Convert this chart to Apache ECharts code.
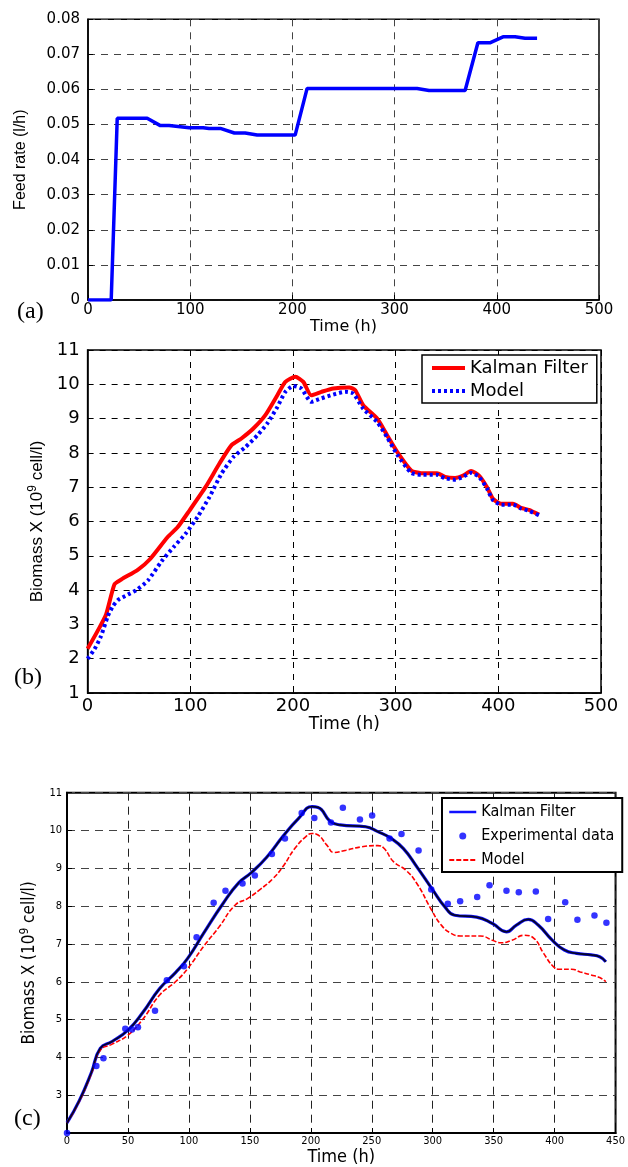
<!DOCTYPE html>
<html><head><meta charset="utf-8">
<script src="https://cdn.jsdelivr.net/npm/echarts@6/dist/echarts.min.js"></script>
<style>html,body{margin:0;padding:0;background:#fff}#c{width:628px;height:1167px}</style>
</head><body><div id="c"></div>
<script>
// ---- Panel (a): feed rate ----
const feedT = [0, 22.7, 28.6, 57.9, 70.8, 79.4, 99, 112.7, 118.5, 129.5, 143.2, 153.8, 165.5, 202.7, 214.4, 322, 333.7, 369, 381.5, 393.2, 406.1, 417.9, 427.6, 439.4];
const feedQ = [0, 0, 0.0518, 0.0518, 0.0497, 0.0497, 0.0491, 0.0491, 0.0489, 0.0489, 0.0476, 0.0476, 0.047, 0.047, 0.0603, 0.0603, 0.0597, 0.0597, 0.0733, 0.0733, 0.075, 0.075, 0.0746, 0.0746];

// ---- Panel (b): Kalman filter vs model ----
const kfbT = [0, 9.8, 18, 26.2, 32.8, 49.2, 60.7, 77.8, 87.6, 99.2, 114.8, 128.4, 140, 149.8, 161.4, 173.1, 184.8, 192.6, 202.3, 210.1, 217.8, 227.6, 239.2, 254.8, 260.6, 268.4, 282, 291.8, 301.5, 315.1, 324.8, 340.4, 348.2, 357.9, 365.7, 373.4, 381.2, 389, 394.8, 402.6, 414.3, 422, 429.8, 439.6];
const kfbX = [2.29, 2.81, 3.29, 4.17, 4.31, 4.6, 4.9, 5.54, 5.83, 6.32, 7.0, 7.69, 8.22, 8.42, 8.71, 9.1, 9.68, 10.07, 10.22, 10.07, 9.68, 9.78, 9.88, 9.91, 9.83, 9.39, 9.0, 8.51, 8.03, 7.49, 7.41, 7.41, 7.3, 7.27, 7.34, 7.47, 7.34, 7.0, 6.66, 6.52, 6.52, 6.4, 6.34, 6.2];
const mbT = [0, 6.6, 13.1, 19.7, 24.6, 29.5, 39.3, 47.5, 59, 72, 83.6, 95.3, 107, 118.6, 130.3, 142, 153.7, 165.3, 175, 184.8, 192.6, 200.3, 208.1, 217.8, 227.6, 239.2, 250.9, 258.7, 268.4, 282, 291.8, 301.5, 315.1, 324.8, 340.4, 348.2, 357.9, 365.7, 373.4, 381.2, 389, 394.8, 402.6, 414.3, 422, 429.8, 439.6];
const mbX = [2.0, 2.27, 2.66, 3.24, 3.53, 3.71, 3.87, 4.0, 4.29, 4.84, 5.25, 5.64, 6.13, 6.71, 7.39, 7.88, 8.17, 8.51, 8.86, 9.34, 9.78, 9.95, 9.88, 9.49, 9.59, 9.7, 9.78, 9.73, 9.29, 8.9, 8.45, 7.95, 7.42, 7.36, 7.36, 7.26, 7.22, 7.3, 7.42, 7.3, 6.96, 6.62, 6.49, 6.49, 6.38, 6.31, 6.18];

// ---- Panel (c): Kalman filter, experimental data, model ----
const kfcT = [0, 10, 20, 27.3, 37, 50, 62, 76, 89, 99, 112, 128, 141, 151, 164, 177, 190, 201, 206, 216, 224, 245, 255, 266, 276, 287, 300, 310, 318, 336, 349, 360.5, 368.7, 378.4, 386.5, 398, 408, 418, 430, 437, 442];
const kfcX = [2.27, 2.85, 3.6, 4.24, 4.42, 4.72, 5.18, 5.82, 6.24, 6.62, 7.28, 8.07, 8.62, 8.88, 9.3, 9.84, 10.32, 10.63, 10.61, 10.24, 10.15, 10.1, 9.97, 9.79, 9.52, 9.04, 8.43, 7.98, 7.76, 7.71, 7.54, 7.32, 7.5, 7.65, 7.5, 7.1, 6.84, 6.75, 6.71, 6.66, 6.53];
const mcT = [0, 10, 20, 27.3, 37, 50, 62, 76, 89, 99, 112, 125, 138, 148, 158, 169, 177, 187, 196, 201, 206, 213, 219, 229, 242, 255, 260, 268, 278, 287, 299, 307, 315, 323, 339, 349, 356, 365, 375, 383, 391, 399, 404, 414, 421, 430, 437, 442];
const mcX = [2.27, 2.83, 3.57, 4.19, 4.35, 4.59, 5.0, 5.65, 6.0, 6.35, 6.93, 7.46, 8.03, 8.2, 8.43, 8.73, 9.04, 9.53, 9.84, 9.92, 9.88, 9.62, 9.42, 9.48, 9.57, 9.6, 9.53, 9.17, 8.95, 8.6, 7.9, 7.5, 7.28, 7.21, 7.21, 7.1, 7.03, 7.1, 7.23, 7.15, 6.75, 6.4, 6.33, 6.33, 6.26, 6.18, 6.11, 6.0];
const expT = [0, 24.1, 29.9, 47.8, 53.3, 58.2, 72.2, 81.9, 95.9, 106.3, 120.3, 130, 144, 154.1, 168.1, 178.8, 192.5, 202.9, 216.5, 226.3, 240.3, 250.3, 264.6, 274.4, 288.4, 298.8, 312.4, 322.5, 336.5, 346.6, 360.5, 370.6, 384.6, 394.7, 408.7, 418.7, 432.7, 442.5];
const expX = [2.0, 3.77, 3.98, 4.76, 4.74, 4.8, 5.23, 6.04, 6.41, 7.18, 8.09, 8.41, 8.6, 8.81, 9.38, 9.79, 10.46, 10.33, 10.21, 10.6, 10.29, 10.4, 9.79, 9.91, 9.47, 8.44, 8.06, 8.13, 8.24, 8.55, 8.41, 8.37, 8.39, 7.66, 8.1, 7.64, 7.75, 7.56];

const pairs = (t, v) => t.map((x, i) => [x, v[i]]);
const DJ = 'DejaVu Sans';
const AR = 'Liberation Sans, Arial, sans-serif';
const NR = 'Liberation Sans Narrow, DejaVu Sans Condensed, Liberation Sans, sans-serif';

function gridStyle(left, top, width, height, bw) {
  return { left, top, width, height, show: true, borderColor: '#000', borderWidth: bw, backgroundColor: '#fff', containLabel: false };
}
function split(color, dash) {
  return { show: true, lineStyle: { color, type: dash, width: 1 } };
}
const hideSym = { opacity: 0 };

const chart = echarts.init(document.getElementById('c'), null, { renderer: 'canvas' });
chart.setOption({
  animation: false,
  backgroundColor: '#fff',
  grid: [
    gridStyle(88, 19.3, 511, 280.7, 1.5),
    gridStyle(87.6, 350, 513.4, 343, 1.5),
    gridStyle(67, 792.7, 554, 440, 2)
  ],
  xAxis: [
    { gridIndex: 0, type: 'value', min: 0, max: 500, interval: 100,
      axisLine: { show: true, lineStyle: { color: '#000', width: 1.5 } },
      axisTick: { show: true, inside: true, length: 5, lineStyle: { color: '#000' } },
      axisLabel: { color: '#000', fontFamily: DJ, fontSize: 15, margin: 3 },
      splitLine: split('#444', [7, 6]),
      name: 'Time (h)', nameLocation: 'middle', nameGap: 17,
      nameTextStyle: { color: '#000', fontFamily: DJ, fontSize: 16 } },
    { gridIndex: 1, type: 'value', min: 0, max: 500, interval: 100,
      axisLine: { show: true, lineStyle: { color: '#000', width: 1.5 } },
      axisTick: { show: true, inside: true, length: 5, lineStyle: { color: '#000' } },
      axisLabel: { color: '#000', fontFamily: DJ, fontSize: 18, margin: 4 },
      splitLine: split('#000', [6, 6]),
      name: 'Time (h)', nameLocation: 'middle', nameGap: 22,
      nameTextStyle: { color: '#000', fontFamily: DJ, fontSize: 17 } },
    { gridIndex: 2, type: 'value', min: 0, max: 450, interval: 50,
      axisLine: { show: true, lineStyle: { color: '#000', width: 2 } },
      axisTick: { show: true, inside: true, length: 5, lineStyle: { color: '#000' } },
      axisLabel: { color: '#000', fontFamily: NR, fontSize: 11, margin: 3 },
      splitLine: split('#222', [8, 6]),
      name: 'Time (h)', nameLocation: 'middle', nameGap: 15,
      nameTextStyle: { color: '#000', fontFamily: NR, fontSize: 18 } }
  ],
  yAxis: [
    { gridIndex: 0, type: 'value', min: 0, max: 0.08, interval: 0.01,
      axisLine: { show: true, lineStyle: { color: '#000', width: 1.5 } },
      axisTick: { show: true, inside: true, length: 5, lineStyle: { color: '#000' } },
      axisLabel: { color: '#000', fontFamily: DJ, fontSize: 15, margin: 8 },
      splitLine: split('#444', [7, 6]),
      name: 'Feed rate (l/h)', nameLocation: 'middle', nameGap: 59,
      nameTextStyle: { color: '#000', fontFamily: AR, fontSize: 16 } },
    { gridIndex: 1, type: 'value', min: 1, max: 11, interval: 1,
      axisLine: { show: true, lineStyle: { color: '#000', width: 1.5 } },
      axisTick: { show: true, inside: true, length: 5, lineStyle: { color: '#000' } },
      axisLabel: { color: '#000', fontFamily: DJ, fontSize: 18, margin: 8 },
      splitLine: split('#000', [6, 6]),
      name: '{a|Biomass X (10}{s|9}{a| cell/l)}', nameLocation: 'middle', nameGap: 37,
      nameTextStyle: { color: '#000', fontFamily: AR, fontSize: 17,
        rich: { a: { fontFamily: AR, fontSize: 17, color: '#000' }, s: { fontFamily: AR, fontSize: 12, color: '#000', verticalAlign: 'top', lineHeight: 22 } } } },
    { gridIndex: 2, type: 'value', min: 2, max: 11, interval: 1,
      axisLine: { show: true, lineStyle: { color: '#000', width: 2 } },
      axisTick: { show: true, inside: true, length: 5, lineStyle: { color: '#000' } },
      axisLabel: { color: '#000', fontFamily: NR, fontSize: 11, margin: 5,
        formatter: v => (v === 2 ? '' : String(v)) },
      splitLine: split('#444', [8, 6]),
      name: '{a|Biomass X (10}{s|9}{a| cell/l)}', nameLocation: 'middle', nameGap: 17,
      nameTextStyle: { color: '#000', fontFamily: NR, fontSize: 17,
        rich: { a: { fontFamily: NR, fontSize: 17, color: '#000' }, s: { fontFamily: NR, fontSize: 12, color: '#000', verticalAlign: 'top', lineHeight: 22 } } } }
  ],
  legend: [
    { left: 422, top: 355, orient: 'vertical', selectedMode: false,
      data: [
        { name: 'Kalman Filter', itemStyle: hideSym, lineStyle: { width: 4 } },
        { name: 'Model', itemStyle: hideSym, lineStyle: { width: 4 } }
      ],
      itemWidth: 33, itemHeight: 14, itemGap: 5, padding: [4, 9, 3, 8],
      borderColor: '#000', borderWidth: 1.5, backgroundColor: '#fff', borderRadius: 0,
      textStyle: { color: '#000', fontFamily: DJ, fontSize: 18 } },
    { left: 442, top: 798, orient: 'vertical', selectedMode: false,
      data: [
        { name: 'Kalman Filter ', itemStyle: hideSym, lineStyle: { width: 2.5 } },
        { name: 'Experimental data', icon: 'circle' },
        { name: 'Model ', itemStyle: hideSym, lineStyle: { width: 2 } }
      ],
      itemWidth: 27, itemHeight: 7, itemGap: 8, padding: [6, 8, 4, 6],
      borderColor: '#000', borderWidth: 2, backgroundColor: '#fff', borderRadius: 0,
      textStyle: { color: '#000', fontFamily: NR, fontSize: 16 } }
  ],
  series: [
    { name: 'Feed', type: 'line', xAxisIndex: 0, yAxisIndex: 0, data: pairs(feedT, feedQ),
      symbol: 'none', lineStyle: { color: '#0000ff', width: 3.5 }, itemStyle: { color: '#0000ff' }, z: 5 },
    { name: 'Kalman Filter', type: 'line', xAxisIndex: 1, yAxisIndex: 1, data: pairs(kfbT, kfbX),
      symbol: 'none', smooth: 0.2, lineStyle: { color: '#ff0000', width: 4 }, itemStyle: { color: '#ff0000' }, z: 4 },
    { name: 'Model', type: 'line', xAxisIndex: 1, yAxisIndex: 1, data: pairs(mbT, mbX),
      symbol: 'none', smooth: 0.2, lineStyle: { color: '#0000ff', width: 4, type: [3, 3] }, itemStyle: { color: '#0000ff' }, z: 5 },
    { name: 'Kalman Filter ', type: 'line', xAxisIndex: 2, yAxisIndex: 2, data: pairs(kfcT, kfcX),
      symbol: 'none', smooth: 0.5, lineStyle: { color: '#1010ff', width: 3.2 }, itemStyle: { color: '#1010ff' }, z: 4 },
    { name: '_kfOverlay', type: 'line', xAxisIndex: 2, yAxisIndex: 2, data: pairs(kfcT, kfcX),
      symbol: 'none', smooth: 0.5, lineStyle: { color: '#05052a', width: 1.8 }, itemStyle: { color: '#05052a' }, z: 5 },
    { name: 'Model ', type: 'line', xAxisIndex: 2, yAxisIndex: 2, data: pairs(mcT, mcX),
      symbol: 'none', smooth: 0.5, lineStyle: { color: '#ff0000', width: 1.6, type: [5, 2] }, itemStyle: { color: '#ff0000' }, z: 4 },
    { name: 'Experimental data', type: 'scatter', xAxisIndex: 2, yAxisIndex: 2, data: pairs(expT, expX),
      symbol: 'circle', symbolSize: 6.5, itemStyle: { color: '#0000ff' }, z: 6 }
  ],
  graphic: [
    { type: 'text', left: 17, top: 300, style: { text: '(a)', font: '24px "Liberation Serif", serif', fill: '#000' } },
    { type: 'text', left: 14, top: 666, style: { text: '(b)', font: '24px "Liberation Serif", serif', fill: '#000' } },
    { type: 'text', left: 14, top: 1107, style: { text: '(c)', font: '24px "Liberation Serif", serif', fill: '#000' } }
  ]
});
</script></body></html>
